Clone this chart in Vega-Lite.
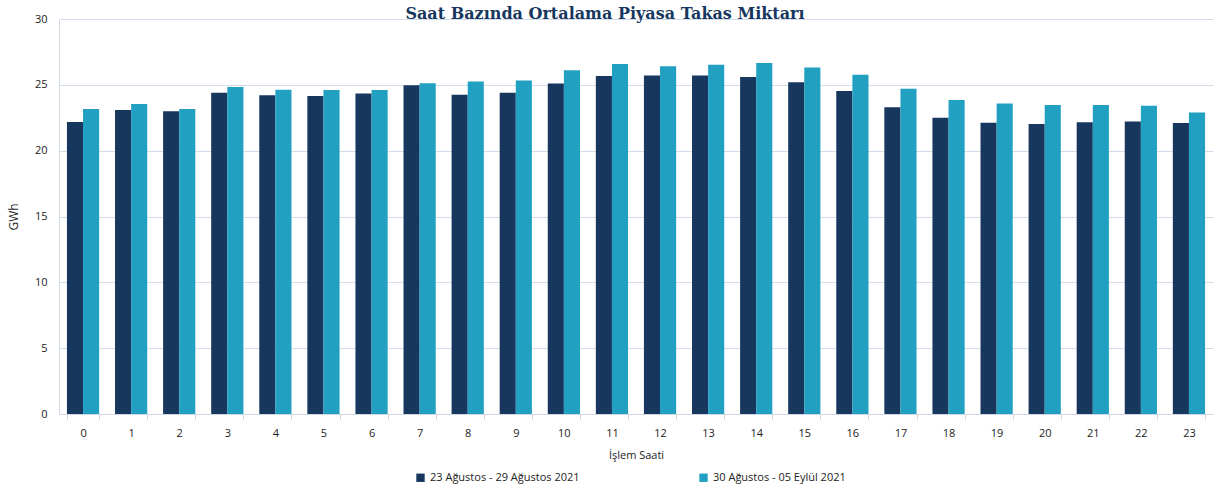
{
  "$schema": "https://vega.github.io/schema/vega-lite/v6.json",
  "width": 1154,
  "height": 395,
  "autosize": {"type": "none"},
  "padding": {"left": 59, "top": 19, "right": 11, "bottom": 77},
  "background": "white",
  "title": {
    "text": "Saat Bazında Ortalama Piyasa Takas Miktarı",
    "font": "DejaVu Serif",
    "fontSize": 16,
    "fontWeight": "bold",
    "color": "#17375e",
    "anchor": "middle",
    "offset": -9,
    "dx": -31
  },
  "config": {
    "view": {"stroke": null},
    "font": "Open Sans"
  },
  "data": {
    "values": [
      {"hour": 0, "period": "23 Ağustos - 29 Ağustos 2021", "value": 22.17},
      {"hour": 0, "period": "30 Ağustos - 05 Eylül 2021", "value": 23.16},
      {"hour": 1, "period": "23 Ağustos - 29 Ağustos 2021", "value": 23.08},
      {"hour": 1, "period": "30 Ağustos - 05 Eylül 2021", "value": 23.54},
      {"hour": 2, "period": "23 Ağustos - 29 Ağustos 2021", "value": 23.0},
      {"hour": 2, "period": "30 Ağustos - 05 Eylül 2021", "value": 23.16},
      {"hour": 3, "period": "23 Ağustos - 29 Ağustos 2021", "value": 24.4},
      {"hour": 3, "period": "30 Ağustos - 05 Eylül 2021", "value": 24.83},
      {"hour": 4, "period": "23 Ağustos - 29 Ağustos 2021", "value": 24.2},
      {"hour": 4, "period": "30 Ağustos - 05 Eylül 2021", "value": 24.63},
      {"hour": 5, "period": "23 Ağustos - 29 Ağustos 2021", "value": 24.15},
      {"hour": 5, "period": "30 Ağustos - 05 Eylül 2021", "value": 24.6},
      {"hour": 6, "period": "23 Ağustos - 29 Ağustos 2021", "value": 24.35},
      {"hour": 6, "period": "30 Ağustos - 05 Eylül 2021", "value": 24.6},
      {"hour": 7, "period": "23 Ağustos - 29 Ağustos 2021", "value": 24.96},
      {"hour": 7, "period": "30 Ağustos - 05 Eylül 2021", "value": 25.12},
      {"hour": 8, "period": "23 Ağustos - 29 Ağustos 2021", "value": 24.25},
      {"hour": 8, "period": "30 Ağustos - 05 Eylül 2021", "value": 25.26},
      {"hour": 9, "period": "23 Ağustos - 29 Ağustos 2021", "value": 24.4},
      {"hour": 9, "period": "30 Ağustos - 05 Eylül 2021", "value": 25.33},
      {"hour": 10, "period": "23 Ağustos - 29 Ağustos 2021", "value": 25.1},
      {"hour": 10, "period": "30 Ağustos - 05 Eylül 2021", "value": 26.1},
      {"hour": 11, "period": "23 Ağustos - 29 Ağustos 2021", "value": 25.67},
      {"hour": 11, "period": "30 Ağustos - 05 Eylül 2021", "value": 26.58},
      {"hour": 12, "period": "23 Ağustos - 29 Ağustos 2021", "value": 25.71},
      {"hour": 12, "period": "30 Ağustos - 05 Eylül 2021", "value": 26.42},
      {"hour": 13, "period": "23 Ağustos - 29 Ağustos 2021", "value": 25.71},
      {"hour": 13, "period": "30 Ağustos - 05 Eylül 2021", "value": 26.52},
      {"hour": 14, "period": "23 Ağustos - 29 Ağustos 2021", "value": 25.59},
      {"hour": 14, "period": "30 Ağustos - 05 Eylül 2021", "value": 26.65},
      {"hour": 15, "period": "23 Ağustos - 29 Ağustos 2021", "value": 25.2},
      {"hour": 15, "period": "30 Ağustos - 05 Eylül 2021", "value": 26.32},
      {"hour": 16, "period": "23 Ağustos - 29 Ağustos 2021", "value": 24.53},
      {"hour": 16, "period": "30 Ağustos - 05 Eylül 2021", "value": 25.77},
      {"hour": 17, "period": "23 Ağustos - 29 Ağustos 2021", "value": 23.29},
      {"hour": 17, "period": "30 Ağustos - 05 Eylül 2021", "value": 24.7},
      {"hour": 18, "period": "23 Ağustos - 29 Ağustos 2021", "value": 22.5},
      {"hour": 18, "period": "30 Ağustos - 05 Eylül 2021", "value": 23.84},
      {"hour": 19, "period": "23 Ağustos - 29 Ağustos 2021", "value": 22.12},
      {"hour": 19, "period": "30 Ağustos - 05 Eylül 2021", "value": 23.59},
      {"hour": 20, "period": "23 Ağustos - 29 Ağustos 2021", "value": 22.02},
      {"hour": 20, "period": "30 Ağustos - 05 Eylül 2021", "value": 23.46},
      {"hour": 21, "period": "23 Ağustos - 29 Ağustos 2021", "value": 22.15},
      {"hour": 21, "period": "30 Ağustos - 05 Eylül 2021", "value": 23.46},
      {"hour": 22, "period": "23 Ağustos - 29 Ağustos 2021", "value": 22.22},
      {"hour": 22, "period": "30 Ağustos - 05 Eylül 2021", "value": 23.41},
      {"hour": 23, "period": "23 Ağustos - 29 Ağustos 2021", "value": 22.1},
      {"hour": 23, "period": "30 Ağustos - 05 Eylül 2021", "value": 22.9}
    ]
  },
  "mark": {"type": "bar"},
  "encoding": {
    "x": {
      "field": "hour",
      "type": "ordinal",
      "scale": {"paddingInner": 0.33, "paddingOuter": 0.165},
      "axis": {
        "title": "İşlem Saati",
        "titleFont": "Open Sans",
        "titleFontSize": 11,
        "titleFontWeight": "normal",
        "titleColor": "#222222",
        "titlePadding": 11,
        "labelAngle": 0,
        "labelFontSize": 11,
        "labelColor": "#222222",
        "labelPadding": 8,
        "domainColor": "#d0d8e4",
        "tickColor": "#d0d8e4",
        "tickSize": 5,
        "tickBand": "extent",
        "grid": false
      }
    },
    "xOffset": {"field": "period", "type": "nominal"},
    "y": {
      "field": "value",
      "type": "quantitative",
      "scale": {"domain": [0, 30]},
      "axis": {
        "title": "GWh",
        "titleFont": "Open Sans",
        "titleFontSize": 12,
        "titleFontWeight": "normal",
        "titleColor": "#222222",
        "titlePadding": 14,
        "values": [0, 5, 10, 15, 20, 25, 30],
        "labelFontSize": 11,
        "labelColor": "#222222",
        "labelPadding": 12,
        "ticks": false,
        "domainColor": "#d0d8e4",
        "gridColor": "#d3dcea",
        "gridWidth": 1.2
      }
    },
    "color": {
      "field": "period",
      "type": "nominal",
      "scale": {"range": ["#17375e", "#21a0c2"]},
      "legend": {
        "title": null,
        "orient": "none",
        "legendX": 356,
        "legendY": 453,
        "direction": "horizontal",
        "symbolType": "square",
        "symbolSize": 70,
        "symbolStrokeWidth": 0,
        "labelFontSize": 11,
        "labelColor": "#222222",
        "columnPadding": 118
      }
    }
  }
}
